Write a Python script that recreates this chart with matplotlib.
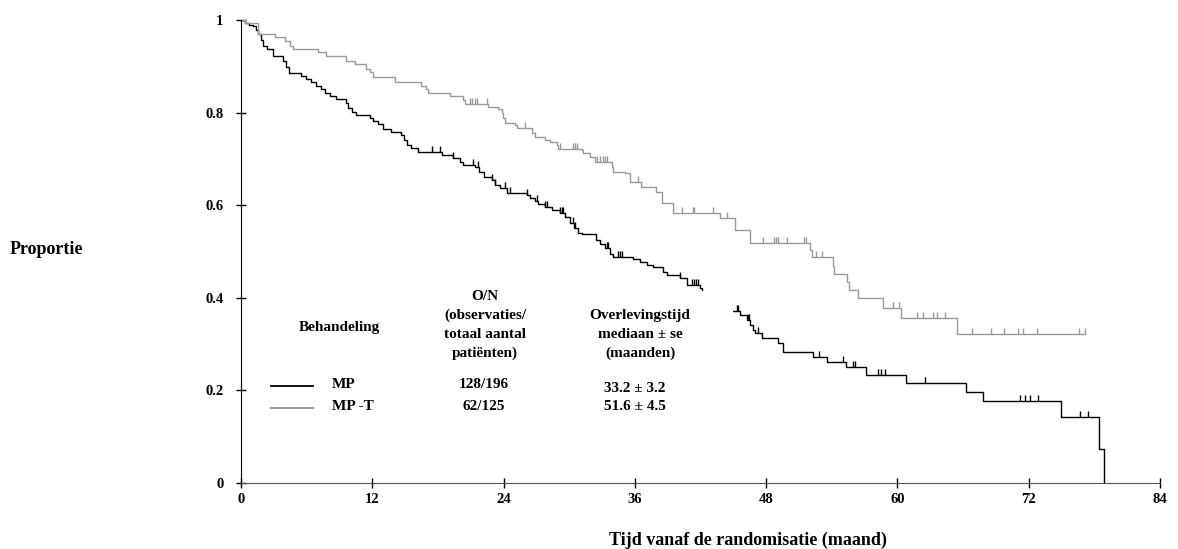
import matplotlib
matplotlib.use("Agg")
import matplotlib.pyplot as plt
import numpy as np
from matplotlib.patches import Rectangle

# MP (black) Kaplan-Meier steps: time of drop (months) and level after the drop
mp_times = [0, 0.37, 0.73, 1.1, 1.37, 1.55, 1.83, 2.01, 2.38, 2.93, 3.84, 4.11, 4.39,
            5.48, 5.94, 6.40, 6.86, 7.31, 7.68, 8.14, 8.68, 9.60, 9.78, 10.15, 10.51,
            11.79, 12.07, 12.52, 12.98, 13.71, 14.63, 14.90, 15.17, 15.54, 16.18,
            18.37, 19.38, 20.02, 20.29, 21.39, 21.76, 22.21, 22.94, 23.22, 23.67, 24.31,
            26.14, 26.42, 26.87, 27.15, 27.79, 28.43, 29.16, 29.62, 30.07, 30.44, 30.80,
            31.17, 32.45, 32.82, 33.27, 33.73, 34.00, 35.83, 36.47, 37.11, 37.66, 38.57,
            38.94, 40.13, 40.77, 41.96, 42.14, 43.2, 44.1,
            45.61, 46.25, 46.53, 46.80, 46.98, 47.62, 49.09, 49.54, 52.29, 53.56, 55.30,
            57.13, 60.79, 66.27, 67.82, 74.95, 78.43, 78.88]
mp_surv = [1.0, 0.994, 0.989, 0.987, 0.978, 0.970, 0.957, 0.944, 0.937, 0.922, 0.911, 0.898, 0.886,
           0.879, 0.873, 0.866, 0.857, 0.851, 0.842, 0.836, 0.829, 0.821, 0.810, 0.801, 0.795,
           0.788, 0.782, 0.775, 0.765, 0.758, 0.752, 0.741, 0.730, 0.724, 0.715,
           0.708, 0.702, 0.693, 0.687, 0.683, 0.672, 0.661, 0.654, 0.644, 0.637, 0.626,
           0.622, 0.616, 0.609, 0.603, 0.596, 0.590, 0.583, 0.575, 0.562, 0.551, 0.540,
           0.538, 0.525, 0.516, 0.508, 0.495, 0.488, 0.484, 0.477, 0.471, 0.467, 0.456,
           0.449, 0.443, 0.428, 0.421, 0.413, 0.392, 0.371,
           0.363, 0.352, 0.341, 0.330, 0.324, 0.313, 0.302, 0.283, 0.272, 0.261, 0.251,
           0.233, 0.216, 0.197, 0.177, 0.143, 0.073, 0.0]
mp_censored = [17.46, 18.19, 19.38, 21.21, 21.66, 22.94, 23.22, 24.13, 24.59, 26.14, 27.06,
               27.79, 27.97, 29.16, 29.34, 29.43, 30.35, 30.53, 33.46, 33.55, 34.46, 34.64,
               34.83, 40.13, 41.22, 41.41, 41.59, 41.77, 45.34, 45.43, 46.34, 46.44, 47.26,
               52.83, 55.03, 55.94, 56.12, 58.23, 58.50, 58.87, 62.52, 71.21, 71.66, 72.12,
               72.85, 76.69, 77.42]

# MP-T (grey)
mpt_times = [0, 0.37, 1.55, 3.11, 4.02, 4.48, 4.75, 7.04, 7.77, 9.60, 10.42, 11.43, 11.79,
             12.07, 14.08, 16.45, 16.91, 17.09, 19.10, 20.29, 20.48, 22.58, 23.49, 23.86,
             23.95, 24.13, 25.05, 25.23, 26.60, 26.87, 27.79, 28.24, 28.88, 28.98, 31.17,
             31.26, 31.90, 32.36, 33.91, 34.00, 35.10, 35.56, 36.56, 37.93, 38.48, 39.49,
             43.78, 45.16, 46.53, 52.01, 52.19, 54.11, 54.20, 55.39, 55.58, 56.40, 58.68,
             60.33, 65.45, 77.15]
mpt_surv = [1.0, 0.994, 0.970, 0.963, 0.955, 0.944, 0.937, 0.931, 0.922, 0.911, 0.905, 0.894, 0.888,
            0.877, 0.866, 0.857, 0.851, 0.842, 0.836, 0.827, 0.819, 0.812, 0.808, 0.799,
            0.788, 0.778, 0.773, 0.767, 0.756, 0.747, 0.741, 0.736, 0.730, 0.721, 0.719,
            0.713, 0.704, 0.693, 0.683, 0.672, 0.670, 0.650, 0.639, 0.629, 0.605, 0.583,
            0.572, 0.546, 0.518, 0.503, 0.488, 0.469, 0.451, 0.434, 0.417, 0.400, 0.378,
            0.356, 0.322, 0.322]
mpt_censored = [20.93, 21.12, 21.39, 21.57, 22.49, 25.96, 29.16, 30.35, 30.53, 30.71, 32.54,
                32.82, 33.09, 33.27, 33.46, 36.29, 40.31, 41.32, 41.41, 43.14, 44.42, 47.71,
                48.72, 48.90, 49.09, 49.91, 51.46, 51.65, 52.56, 53.11, 59.60, 60.15, 61.79,
                62.34, 63.25, 63.62, 64.35, 66.82, 68.56, 69.74, 71.02, 71.48, 72.76, 76.60,
                77.15]

groups = ["MP", "MP -T"]
on_counts = ["128/196", "62/125"]
medians = ["33.2 \u00b1 3.2", "51.6 \u00b1 4.5"]
colors = ["black", "#999999"]

plt.rcParams["font.family"] = ["Liberation Serif", "DejaVu Serif"]
plt.rcParams["font.weight"] = "bold"

fig = plt.figure(figsize=(11.78, 5.49), dpi=100)
ax = fig.add_axes([241 / 1178, 66 / 549, 919 / 1178, 463 / 549])


def level_at(times, surv, t):
    idx = np.searchsorted(times, t, side="right") - 1
    return np.asarray(surv)[idx]


curves = [(mp_times, mp_surv, mp_censored), (mpt_times, mpt_surv, mpt_censored)]
for (times, surv, cens), col in zip(curves, colors):
    ax.step(times, surv, where="post", color=col, lw=1.0, zorder=2)
    ax.plot(cens, level_at(times, surv, cens), ls="none", marker=2,
            ms=4, mew=1.0, color=col, zorder=2)

# white panel behind the summary table (hides the curve there, as in the original)
ax.add_patch(Rectangle((1.5, 0.13), 43.45, 0.285, facecolor="white",
                       edgecolor="none", zorder=3))

ax.set_xlim(0, 84)
ax.set_ylim(0, 1)
ax.set_xticks(np.arange(0, 85, 12))
ax.set_yticks([0, 0.2, 0.4, 0.6, 0.8, 1.0])
ax.set_yticklabels(["0", "0.2", "0.4", "0.6", "0.8", "1"])
for s in ["top", "right"]:
    ax.spines[s].set_visible(False)
ax.spines["left"].set_color("black")
ax.spines["bottom"].set_color("#555555")
ax.tick_params(direction="inout", length=7, width=1, labelsize=10.5)
ax.tick_params(axis="y", pad=9)
ax.tick_params(axis="x", pad=4)
ax.patch.set_visible(False)

fig.text(10 / 1178, 1 - 250 / 549, "Proportie", fontsize=13, ha="left", va="center")
fig.text(748 / 1178, 1 - 540 / 549, "Tijd vanaf de randomisatie (maand)",
         fontsize=13, ha="center", va="center")


def tx(px, py, s, **kw):
    fig.text(px / 1178, 1 - py / 549, s, ha="center", va="center", fontsize=11, zorder=5, **kw)


tx(339, 327, "Behandeling")
tx(485, 296, "O/N")
tx(485, 315, "(observaties/")
tx(485, 334, "totaal aantal")
tx(485, 353, "pati\u00ebnten)")
tx(640, 315, "Overlevingstijd")
tx(640, 334, "mediaan \u00b1 se")
tx(640, 353, "(maanden)")

row_y = [384, 406]
for g, on, med, col, y in zip(groups, on_counts, medians, colors, row_y):
    fig.add_artist(plt.Line2D([271 / 1178, 313 / 1178], [1 - (y + 2) / 549] * 2,
                              color=col, lw=1.3))
    fig.text(332 / 1178, 1 - y / 549, g, ha="left", va="center", fontsize=11)
    tx(484, y, on)
tx(635, 388, medians[0])
tx(635, 406, medians[1])

fig.savefig("out.png", dpi=100)
